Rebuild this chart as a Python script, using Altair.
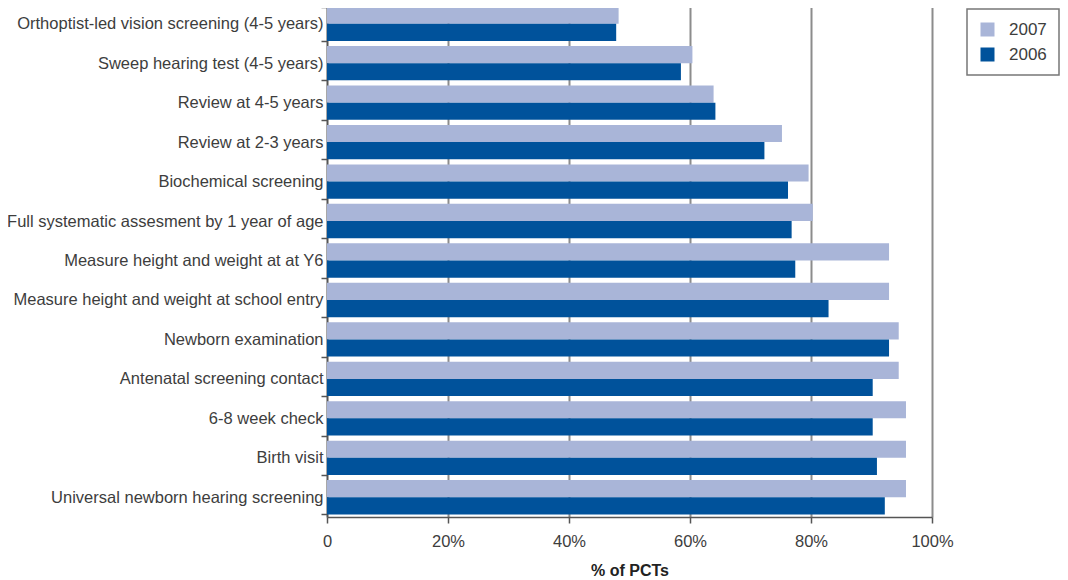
import altair as alt
import pandas as pd

categories = [
    "Orthoptist-led vision screening (4-5 years)",
    "Sweep hearing test (4-5 years)",
    "Review at 4-5 years",
    "Review at 2-3 years",
    "Biochemical screening",
    "Full systematic assesment by 1 year of age",
    "Measure height and weight at at Y6",
    "Measure height and weight at school entry",
    "Newborn examination",
    "Antenatal screening contact",
    "6-8 week check",
    "Birth visit",
    "Universal newborn hearing screening",
]
years = ["2007", "2006"]
values_2007 = [48.2, 60.4, 63.9, 75.2, 79.6, 80.3, 92.9, 92.9, 94.5, 94.5, 95.7, 95.7, 95.7]
values_2006 = [47.8, 58.5, 64.2, 72.3, 76.2, 76.8, 77.4, 82.9, 92.9, 90.2, 90.2, 90.9, 92.2]
x_ticks = [0, 20, 40, 60, 80, 100]

df = pd.DataFrame({
    "Category": categories * 2,
    "Year": ["2007"] * len(categories) + ["2006"] * len(categories),
    "Value": values_2007 + values_2006,
})

FONT = "Liberation Sans"
TXT = "#3d3d3d"

chart = alt.Chart(df).mark_bar().encode(
    x=alt.X(
        "Value:Q",
        scale=alt.Scale(domain=[0, 100], nice=False),
        axis=alt.Axis(
            values=x_ticks,
            labelExpr="datum.value == 0 ? '0' : datum.value + '%'",
            labelFlush=False,
            title="% of PCTs",
            grid=True,
            gridColor="#8c8c8c",
            gridWidth=2,
            domainColor="#555555",
            domainWidth=1.5,
            tickColor="#555555",
            tickWidth=1.5,
            tickSize=6,
            labelPadding=10,
            labelFontSize=16.5,
            labelColor=TXT,
            labelFont=FONT,
            titleFont=FONT,
            titleFontSize=16,
            titleFontWeight="bold",
            titleColor="#222222",
            titlePadding=13,
        ),
    ),
    y=alt.Y(
        "Category:N",
        sort=categories,
        scale=alt.Scale(paddingInner=0.13, paddingOuter=0.065),
        axis=alt.Axis(
            title=None,
            tickBand="extent",
            grid=False,
            domainColor="#555555",
            domainWidth=1.5,
            tickColor="#555555",
            tickWidth=1.5,
            tickSize=6,
            labelPadding=-2,
            labelFontSize=16.5,
            labelColor=TXT,
            labelFont=FONT,
            labelLimit=400,
        ),
    ),
    yOffset=alt.YOffset("Year:N", sort=years, scale=alt.Scale(paddingInner=0, paddingOuter=0)),
    color=alt.Color(
        "Year:N",
        scale=alt.Scale(domain=years, range=["#a9b5d8", "#00529b"]),
        legend=alt.Legend(
            title=None,
            orient="none",
            legendX=640,
            legendY=5,
            symbolType="square",
            symbolSize=196,
            symbolStrokeWidth=0,
            symbolOffset=0,
            labelOffset=13,
            labelFontSize=17,
            labelColor=TXT,
            labelFont=FONT,
            rowPadding=7,
            padding=12,
            strokeColor="#777777",
            fillColor="white",
        ),
    ),
).properties(
    width=605,
    height=513,
    autosize=alt.AutoSizeParams(type="none"),
    padding={"left": 319, "top": -4, "right": 128, "bottom": 63},
).configure_view(stroke=None).configure_legend(strokeWidth=1.5)

chart.save("out.html", embed_options={"renderer": "svg", "actions": False})
